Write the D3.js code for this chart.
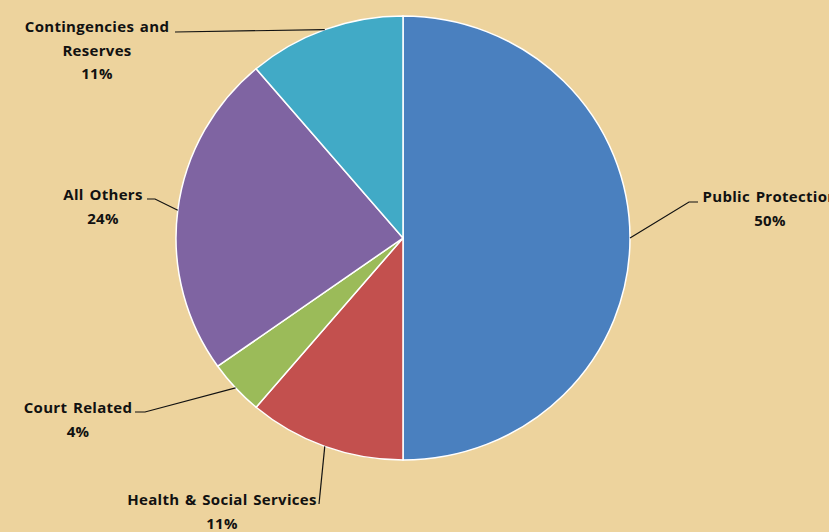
<!DOCTYPE html>
<html>
<head>
<meta charset="utf-8">
<script src="https://cdn.jsdelivr.net/npm/d3@7"></script>
<style>
  html, body { margin: 0; padding: 0; background: #EDD39D; }
  svg { display: block; }
  .slice-label { font-family: "Open Sans", Lato, sans-serif; font-weight: bold; font-size: 15px; letter-spacing: 0.3px; word-spacing: 1.5px; fill: #111; }
</style>
</head>
<body>
<svg id="chart"></svg>
<script>
const categories = ['Public Protection', 'Health & Social Services', 'Court Related', 'All Others', 'Contingencies and Reserves'];
const values = [50.0, 11.2, 4.0, 23.6, 11.2];
const percentLabels = ['50%', '11%', '4%', '24%', '11%'];
const colors = ['#4A80BF', '#C3504E', '#9BBB59', '#7F64A2', '#41AAC6'];

// label layout: text lines, label center and leader elbow
const labelLayout = [
    { lines: ['Public Protection', '50%'], x: 770, y: 196, elbow: [[689, 202], [698, 202]] },
    { lines: ['Health & Social Services', '11%'], x: 222, y: 499, elbow: [[319, 504]] },
    { lines: ['Court Related', '4%'], x: 78, y: 407, elbow: [[145, 412], [135, 412]] },
    { lines: ['All Others', '24%'], x: 103, y: 194, elbow: [[155, 199], [147, 199]] },
    { lines: ['Contingencies and', 'Reserves', '11%'], x: 97, y: 26, elbow: [[175, 32]] }
];

const width = 829;
const height = 532;
const cx = 403, cy = 238;
const ry = 222, rx = 227;

const svg = d3.select('#chart')
    .attr('width', width)
    .attr('height', height);

svg.append('rect')
    .attr('width', width)
    .attr('height', height)
    .attr('fill', '#EDD39D');

const pie = d3.pie()
    .value(d => d)
    .sort(null);

const arcs = pie(values);

const arc = d3.arc()
    .innerRadius(0)
    .outerRadius(ry);

const g = svg.append('g')
    .attr('transform', `translate(${cx},${cy}) scale(${rx / ry},1)`);

g.selectAll('.slice')
    .data(arcs)
    .join('path')
    .classed('slice', true)
    .attr('d', arc)
    .attr('fill', (d, i) => colors[i])
    .attr('stroke', '#fff')
    .attr('stroke-width', 1.5)
    .attr('vector-effect', 'non-scaling-stroke');

// leader lines from the slice edge midpoint
const edgePoint = d => {
    const a = (d.startAngle + d.endAngle) / 2;
    return [cx + rx * Math.sin(a), cy - ry * Math.cos(a)];
};

const line = d3.line();

svg.selectAll('.leader')
    .data(arcs)
    .join('path')
    .classed('leader', true)
    .attr('d', (d, i) => line([edgePoint(d)].concat(labelLayout[i].elbow)))
    .attr('fill', 'none')
    .attr('stroke', '#111')
    .attr('stroke-width', 1.2);

const labels = svg.selectAll('.slice-label')
    .data(arcs)
    .join('text')
    .classed('slice-label', true)
    .attr('text-anchor', 'middle');

labels.selectAll('tspan')
    .data((d, i) => {
        const lines = labelLayout[i].lines.slice(0, -1).concat([percentLabels[i]]);
        return lines.map((t, k) => ({ t, k, i }));
    })
    .join('tspan')
    .attr('x', d => labelLayout[d.i].x)
    .attr('y', d => labelLayout[d.i].y + 6 + d.k * 23.5)
    .text(d => d.t);
</script>
</body>
</html>
